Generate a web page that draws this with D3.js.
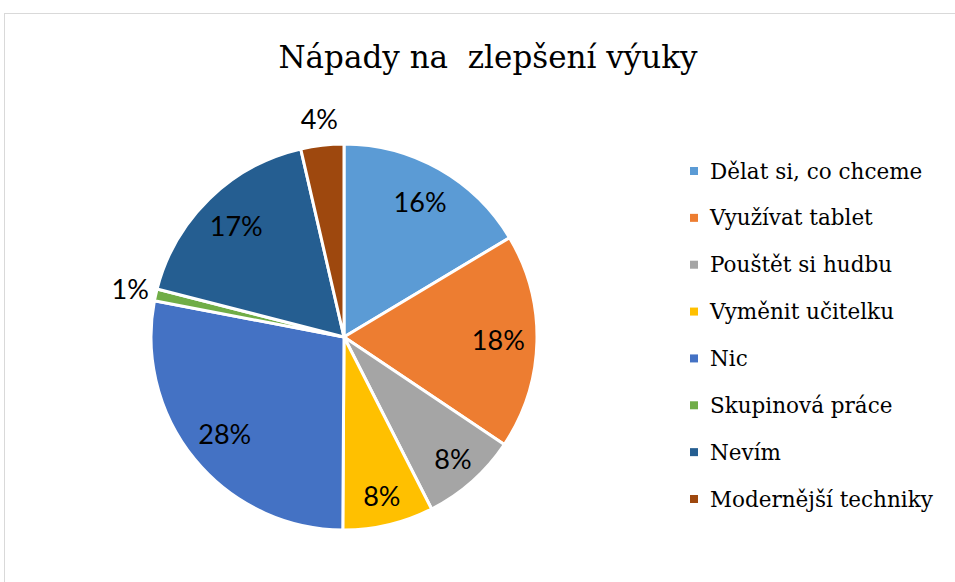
<!DOCTYPE html>
<html>
<head>
<meta charset="utf-8">
<script src="https://cdn.jsdelivr.net/npm/d3@7"></script>
<style>
  html, body { margin: 0; padding: 0; background: #fff; }
  svg { display: block; }
</style>
</head>
<body>
<svg id="chart" width="955" height="582"></svg>
<script>
const TITLE = "Nápady na  zlepšení výuky";
const categories = ["Dělat si, co chceme", "Využívat tablet", "Pouštět si hudbu", "Vyměnit učitelku",
  "Nic", "Skupinová práce", "Nevím", "Modernější techniky"];
const values = [16.4, 18.0, 8.1, 7.6, 27.9, 1.0, 17.4, 3.6];
const colors = ["#5B9BD5", "#ED7D31", "#A5A5A5", "#FFC000", "#4472C4", "#70AD47", "#255E91", "#9E480E"];

const SERIF = "'DejaVu Serif', serif";
const SANS = "Lato, 'Open Sans', sans-serif";

const CX = 344, CY = 337, R = 193;

const svg = d3.select("#chart");

// chart area border (runs off the right and bottom edges)
svg.append("rect")
  .attr("x", 4.5).attr("y", 13.5)
  .attr("width", 1200).attr("height", 1200)
  .attr("fill", "none")
  .attr("stroke", "#d9d9d9");

svg.append("text")
  .attr("x", 488).attr("y", 68)
  .attr("text-anchor", "middle")
  .style("white-space", "pre")
  .style("font-family", SERIF)
  .style("font-size", "31px")
  .attr("fill", "#000")
  .text(TITLE);

const total = d3.sum(values);
const pie = d3.pie().sort(null).value(d => d)(values);
const arc = d3.arc().innerRadius(0).outerRadius(R);

const g = svg.append("g").attr("transform", `translate(${CX},${CY})`);

g.selectAll("path")
  .data(pie)
  .join("path")
  .attr("d", arc)
  .attr("fill", (d, i) => colors[i])
  .attr("stroke", "#fff")
  .attr("stroke-width", 3)
  .attr("stroke-linejoin", "round");

// labels inside, small slices pushed out past the rim
function labelPos(d) {
  const a = (d.startAngle + d.endAngle) / 2;
  const share = d.value / total;
  const r = share < 0.05 ? R + 26 : (share < 0.1 ? R * 0.85 : R * 0.8);
  return [Math.sin(a) * r, -Math.cos(a) * r];
}

g.selectAll("text")
  .data(pie)
  .join("text")
  .attr("transform", d => `translate(${labelPos(d)})`)
  .attr("text-anchor", "middle")
  .attr("dy", "0.35em")
  .style("font-family", SANS)
  .style("font-size", "27px")
  .attr("fill", "#000")
  .text(d => Math.round(d.value / total * 100) + "%");

// legend
const legendY = d3.scalePoint().domain(categories).range([171, 499]);
const legend = svg.append("g").selectAll("g")
  .data(categories)
  .join("g")
  .attr("transform", d => `translate(690,${legendY(d)})`);

legend.append("rect")
  .attr("x", 0).attr("y", -4)
  .attr("width", 8).attr("height", 8)
  .attr("fill", (d, i) => colors[i]);

legend.append("text")
  .attr("x", 20).attr("dy", "0.35em")
  .style("font-family", SERIF)
  .style("font-size", "21.5px")
  .attr("fill", "#000")
  .text(d => d);
</script>
</body>
</html>
